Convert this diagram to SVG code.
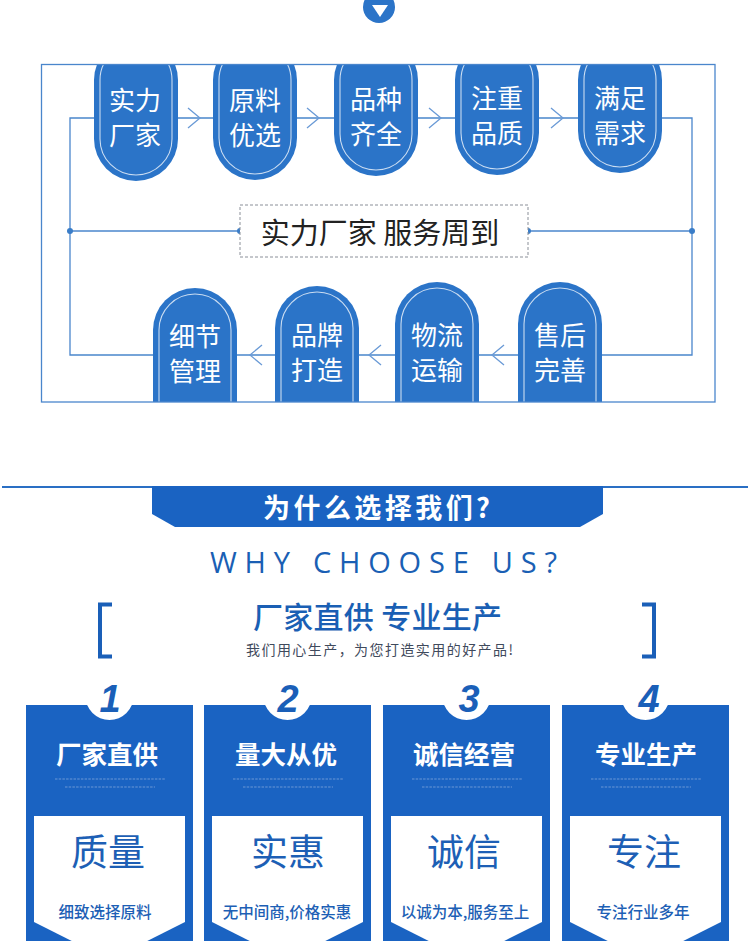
<svg xmlns="http://www.w3.org/2000/svg" width="750" height="941" viewBox="0 0 750 941">
<defs>
<style>
.pill{fill:#2b74c8}
.pin{fill:none;stroke:#ffffff;stroke-width:1.1;opacity:0.75}
.pt{font-family:"Noto Sans CJK SC","Noto Sans",sans-serif;font-size:26px;fill:#ffffff;text-anchor:middle}
.ln{fill:none;stroke:#4a86cc;stroke-width:1.3}
.ar{fill:none;stroke:#6a9ad6;stroke-width:1.3}
.dot{fill:#3a7dc8}
.card{fill:#1a63c2}
.num{font-family:"Liberation Sans",Arial,sans-serif;font-weight:bold;font-style:italic;font-size:38px;fill:#1a5fb8;text-anchor:middle}
.ct{font-family:"Noto Sans CJK SC",sans-serif;font-weight:bold;font-size:25.5px;fill:#ffffff;text-anchor:middle}
.big{font-family:"Noto Sans CJK SC",sans-serif;font-size:37px;fill:#1d5fb5;text-anchor:middle}
.sub{font-family:"Noto Sans CJK SC",sans-serif;font-weight:500;font-size:15.5px;fill:#1d5fb5;text-anchor:middle}
.tiny{stroke:#7fa6dc;stroke-width:1.2;stroke-dasharray:2.5 1.2;opacity:0.8}
</style>
<clipPath id="frameClip"><rect x="41.5" y="64" width="673.5" height="338"/></clipPath>
</defs>
<rect width="750" height="941" fill="#ffffff"/>

<g id="top-badge">
<circle cx="379" cy="7" r="16" fill="#2b74c8"/>
<polygon points="372,5 388,5 380,17" fill="#ffffff"/>
</g>

<g id="connectors">
<path class="ln" d="M70,118 H692 V355 H70 Z"/>
<line class="ln" x1="70" y1="231" x2="240" y2="231"/>
<line class="ln" x1="528" y1="231" x2="692" y2="231"/>
<circle class="dot" cx="70" cy="231" r="3"/>
<circle class="dot" cx="240" cy="231" r="3"/>
<circle class="dot" cx="528" cy="231" r="3"/>
<circle class="dot" cx="692" cy="231" r="3"/>
<polyline class="ar" points="188,108 200,118 188,128"/>
<polyline class="ar" points="307,108 319,118 307,128"/>
<polyline class="ar" points="429,108 441,118 429,128"/>
<polyline class="ar" points="551,108 563,118 551,128"/>
<polyline class="ar" points="262,345 250,355 262,365"/>
<polyline class="ar" points="381,345 369,355 381,365"/>
<polyline class="ar" points="504,345 492,355 504,365"/>
</g>

<g clip-path="url(#frameClip)">
<g id="node-shili">
<path class="pill" d="M94,80 A42,42 0 0 1 178,80 V139 A42,42 0 0 1 94,139 Z"/>
<path class="pin" d="M100,80 A36,36 0 0 1 172,80 V139 A36,36 0 0 1 100,139 Z"/>
<text class="pt" x="135" y="110">实力<tspan x="135" dy="35">厂家</tspan></text>
</g>
<g id="node-yuanliao">
<path class="pill" d="M213,80 A42,42 0 0 1 297,80 V138 A42,42 0 0 1 213,138 Z"/>
<path class="pin" d="M219,80 A36,36 0 0 1 291,80 V138 A36,36 0 0 1 219,138 Z"/>
<text class="pt" x="255" y="110">原料<tspan x="255" dy="35">优选</tspan></text>
</g>
<g id="node-pinzhong">
<path class="pill" d="M334,80 A42,42 0 0 1 418,80 V134 A42,42 0 0 1 334,134 Z"/>
<path class="pin" d="M340,80 A36,36 0 0 1 412,80 V134 A36,36 0 0 1 340,134 Z"/>
<text class="pt" x="376" y="109">品种<tspan x="376" dy="35">齐全</tspan></text>
</g>
<g id="node-zhuzhong">
<path class="pill" d="M455,80 A42,42 0 0 1 539,80 V133 A42,42 0 0 1 455,133 Z"/>
<path class="pin" d="M461,80 A36,36 0 0 1 533,80 V133 A36,36 0 0 1 461,133 Z"/>
<text class="pt" x="497" y="108">注重<tspan x="497" dy="35">品质</tspan></text>
</g>
<g id="node-manzu">
<path class="pill" d="M578,80 A42,42 0 0 1 662,80 V131 A42,42 0 0 1 578,131 Z"/>
<path class="pin" d="M584,80 A36,36 0 0 1 656,80 V131 A36,36 0 0 1 584,131 Z"/>
<text class="pt" x="620" y="108">满足<tspan x="620" dy="35">需求</tspan></text>
</g>

<g id="node-xijie">
<path class="pill" d="M153,330 A42,42 0 0 1 237,330 V420 H153 Z"/>
<path class="pin" d="M159,330 A36,36 0 0 1 231,330 V420 M159,420 V330"/>
<text class="pt" x="195" y="346">细节<tspan x="195" dy="35">管理</tspan></text>
</g>
<g id="node-pinpai">
<path class="pill" d="M275,328 A42,42 0 0 1 359,328 V420 H275 Z"/>
<path class="pin" d="M281,328 A36,36 0 0 1 353,328 V420 M281,420 V328"/>
<text class="pt" x="317" y="345">品牌<tspan x="317" dy="35">打造</tspan></text>
</g>
<g id="node-wuliu">
<path class="pill" d="M395,324 A42,42 0 0 1 479,324 V420 H395 Z"/>
<path class="pin" d="M401,324 A36,36 0 0 1 473,324 V420 M401,420 V324"/>
<text class="pt" x="437" y="345">物流<tspan x="437" dy="35">运输</tspan></text>
</g>
<g id="node-shouhou">
<path class="pill" d="M518,324 A42,42 0 0 1 602,324 V420 H518 Z"/>
<path class="pin" d="M524,324 A36,36 0 0 1 596,324 V420 M524,420 V324"/>
<text class="pt" x="560" y="345">售后<tspan x="560" dy="35">完善</tspan></text>
</g>
</g>

<g id="frame">
<rect x="41.5" y="64.5" width="673.5" height="337.5" fill="none" stroke="#4a86cc" stroke-width="1.3"/>
</g>

<g id="center-label">
<rect x="240" y="205" width="288" height="52" fill="#ffffff" stroke="#8a8f98" stroke-width="1" stroke-dasharray="3 2"/>
<text x="380" y="244" font-family="Noto Sans CJK SC,sans-serif" font-size="29" fill="#222222" text-anchor="middle">实力厂家 服务周到</text>
</g>

<g id="why-header">
<line x1="2" y1="487" x2="748" y2="487" stroke="#2a6fc4" stroke-width="2"/>
<path d="M152,486 L603,486 L603,514 L580,527 L175,527 L152,514 Z" fill="#1a63c2"/>
<text x="263" y="518" font-family="Noto Sans CJK SC,sans-serif" font-weight="bold" font-size="27" fill="#ffffff" textLength="227" lengthAdjust="spacing">为什么选择我们?</text>
<text x="210" y="573" font-family="Open Sans,sans-serif" font-size="29" fill="#1a5fb4" textLength="347" lengthAdjust="spacing">WHY CHOOSE US?</text>
<path d="M112,604.5 H100 V656.5 H112" fill="none" stroke="#1a5fb8" stroke-width="4"/>
<path d="M642,604.5 H654 V656.5 H642" fill="none" stroke="#1a5fb8" stroke-width="4"/>
<text x="253" y="628" font-family="Noto Sans CJK SC,sans-serif" font-weight="500" font-size="30" fill="#1a5fb4" textLength="249" lengthAdjust="spacing">厂家直供 专业生产</text>
<text x="246" y="655" font-family="Noto Sans CJK SC,sans-serif" font-size="14" fill="#3f4a5c" textLength="267" lengthAdjust="spacing">我们用心生产，为您打造实用的好产品!</text>
</g>

<g id="card-1">
<rect class="card" x="26" y="705" width="167" height="240"/>
<circle cx="109.5" cy="696" r="24" fill="#ffffff"/>
<text class="num" x="110" y="712">1</text>
<text class="ct" x="107" y="764">厂家直供</text>
<line class="tiny" x1="55" y1="779" x2="165" y2="779"/>
<line class="tiny" x1="65" y1="787" x2="155" y2="787"/>
<polygon points="34,816 185,816 185,922 109.5,960 34,922" fill="#ffffff"/>
<text class="big" x="108" y="866">质量</text>
<text class="sub" x="105" y="918">细致选择原料</text>
</g>
<g id="card-2">
<rect class="card" x="204" y="705" width="167" height="240"/>
<circle cx="287.5" cy="696" r="24" fill="#ffffff"/>
<text class="num" x="288" y="712">2</text>
<text class="ct" x="286" y="764">量大从优</text>
<line class="tiny" x1="233" y1="779" x2="343" y2="779"/>
<line class="tiny" x1="243" y1="787" x2="333" y2="787"/>
<polygon points="212,816 363,816 363,922 287.5,960 212,922" fill="#ffffff"/>
<text class="big" x="288" y="866">实惠</text>
<text class="sub" x="287" y="918">无中间商,价格实惠</text>
</g>
<g id="card-3">
<rect class="card" x="383" y="705" width="167" height="240"/>
<circle cx="466.5" cy="696" r="24" fill="#ffffff"/>
<text class="num" x="469" y="712">3</text>
<text class="ct" x="464" y="764">诚信经营</text>
<line class="tiny" x1="412" y1="779" x2="522" y2="779"/>
<line class="tiny" x1="422" y1="787" x2="512" y2="787"/>
<polygon points="391,816 542,816 542,922 466.5,960 391,922" fill="#ffffff"/>
<text class="big" x="464" y="866">诚信</text>
<text class="sub" x="465" y="918">以诚为本,服务至上</text>
</g>
<g id="card-4">
<rect class="card" x="562" y="705" width="167" height="240"/>
<circle cx="645.5" cy="696" r="24" fill="#ffffff"/>
<text class="num" x="649" y="712">4</text>
<text class="ct" x="646" y="764">专业生产</text>
<line class="tiny" x1="591" y1="779" x2="701" y2="779"/>
<line class="tiny" x1="601" y1="787" x2="691" y2="787"/>
<polygon points="570,816 721,816 721,922 645.5,960 570,922" fill="#ffffff"/>
<text class="big" x="644" y="866">专注</text>
<text class="sub" x="643" y="918">专注行业多年</text>
</g>
</svg>
